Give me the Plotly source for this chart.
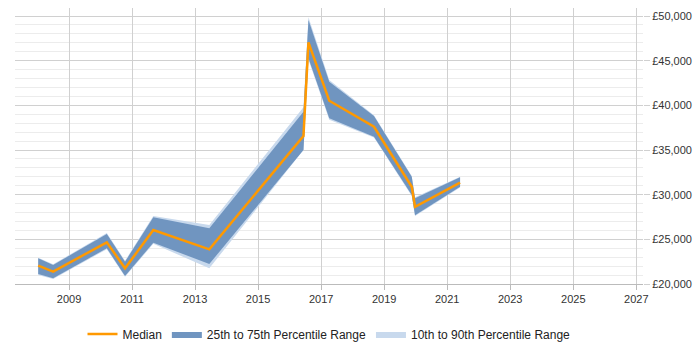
import plotly.graph_objects as go

dates = ["2008-01-10", "2008-07-01", "2010-03-15", "2010-10-12", "2011-09-05",
         "2013-06-15", "2016-06-10", "2016-08-07", "2017-04-05", "2018-09-05",
         "2019-11-17", "2019-12-25", "2021-05-30"]
median = [22050, 21380, 24670, 21760, 26050, 23880, 36570, 47060, 40520, 37610, 30890, 28650, 31340]
p25 = [21120, 20640, 24000, 20900, 24620, 22240, 35000, 45270, 38550, 36490, 29960, 27700, 30890]
p75 = [22880, 22130, 25600, 22500, 27470, 26240, 39290, 49550, 42650, 38810, 32010, 29590, 31940]
p10 = [21000, 20550, 23900, 20800, 24500, 21760, 35000, 45100, 38400, 36400, 29850, 27600, 30800]
p90 = [22950, 22200, 25700, 22600, 27600, 26600, 39800, 49860, 42840, 38900, 32100, 29700, 32000]

c_med = "#ff9900"
c_iqr = "#7095c0"
c_dec = "#c8d9ed"

fig = go.Figure()
fig.add_trace(go.Scatter(x=dates, y=p10, mode="lines", line=dict(width=0, color=c_dec),
                         showlegend=False, hoverinfo="skip"))
fig.add_trace(go.Scatter(x=dates, y=p90, mode="lines", line=dict(width=0, color=c_dec),
                         fill="tonexty", fillcolor=c_dec, name="10th to 90th Percentile Range",
                         legendrank=3))
fig.add_trace(go.Scatter(x=dates, y=p25, mode="lines", line=dict(width=0, color=c_iqr),
                         showlegend=False, hoverinfo="skip"))
fig.add_trace(go.Scatter(x=dates, y=p75, mode="lines", line=dict(width=0, color=c_iqr),
                         fill="tonexty", fillcolor=c_iqr, name="25th to 75th Percentile Range",
                         legendrank=2))
fig.add_trace(go.Scatter(x=dates, y=median, mode="lines", line=dict(width=2.5, color=c_med),
                         name="Median", legendrank=1))

fig.update_layout(
    width=700, height=350,
    margin=dict(l=15, r=57, t=8, b=66, autoexpand=False),
    paper_bgcolor="white", plot_bgcolor="white",
    font=dict(family="Liberation Sans, Arial, sans-serif", size=11, color="#333333"),
    legend=dict(orientation="h", x=0.5, xanchor="center", y=0.046, yanchor="middle",
                yref="container",
                font=dict(family="Liberation Sans, Arial, sans-serif", size=12, color="#222222"),
                itemwidth=30, traceorder="normal"),
    xaxis=dict(type="date", range=["2007-04-16", "2027-03-20"],
               tick0="2009-01-01", dtick="M24", tickformat="%Y",
               showgrid=True, gridcolor="#d0d0d0", gridwidth=1,
               showline=True, linecolor="#bbbbbb", ticks="outside", ticklen=5,
               tickcolor="#bbbbbb", zeroline=False),
    yaxis=dict(side="right", range=[20000, 50900], dtick=5000, tickprefix="£",
               tickformat=",", showgrid=True, gridcolor="#d0d0d0", gridwidth=1,
               minor=dict(dtick=1000, showgrid=True, gridcolor="#ececec"),
               ticks="outside", ticklen=6, tickcolor="#d0d0d0",
               zeroline=False, showline=False),
)

fig.write_html("out.html")
